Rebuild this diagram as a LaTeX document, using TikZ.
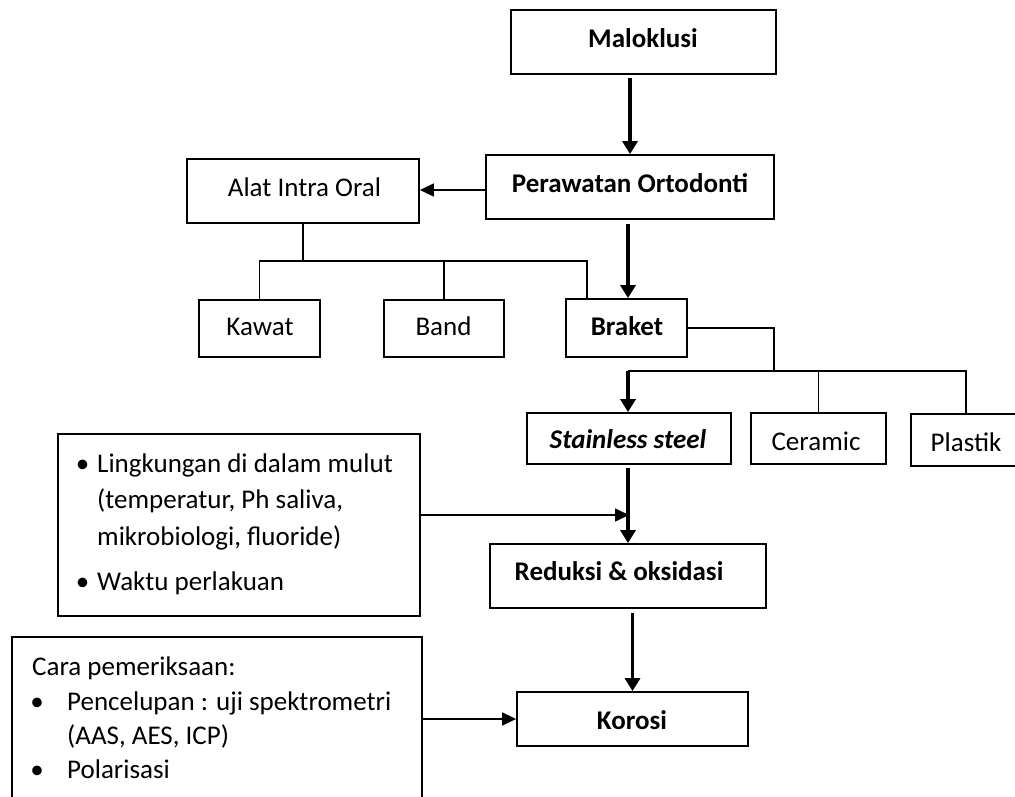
\documentclass[tikz,border=0pt]{standalone}
\usepackage{fontspec}
\setmainfont{Carlito}
\usetikzlibrary{arrows.meta}
\begin{document}
\begin{tikzpicture}[x=1pt,y=-1pt,
  box/.style={draw, line width=1.8pt, inner sep=0pt},
  txt/.style={inner sep=0pt, anchor=base, font=\fontsize{27pt}{32pt}\selectfont},
  txtl/.style={inner sep=0pt, anchor=base west, font=\fontsize{27pt}{32pt}\selectfont},
  conn/.style={line width=1.6pt},
  thinarrow/.style={line width=1.6pt, -{Triangle[length=14pt,width=13pt]}},
  thickarrow/.style={line width=3.8pt, -{Triangle[length=13pt,width=15pt]}}
]
\useasboundingbox (0,0) rectangle (1015,796);
\clip (0,0) rectangle (1015,796);
\fill[white] (0,0) rectangle (1015,796);

% boxes
\node[box, minimum width=265pt, minimum height=64pt] (mal) at (643.5,42) {};
\node[box, minimum width=288pt, minimum height=64pt] (per) at (630,187) {};
\node[box, minimum width=232pt, minimum height=64pt] (alat) at (303,191) {};
\node[box, minimum width=121pt, minimum height=57pt] (kawat) at (259.5,328.5) {};
\node[box, minimum width=120pt, minimum height=57pt] (band) at (444,328.5) {};
\node[box, minimum width=121pt, minimum height=58pt] (braket) at (626.5,328) {};
\node[box, minimum width=204pt, minimum height=51pt] (stain) at (629,438.5) {};
\node[box, minimum width=135pt, minimum height=51pt] (ceramic) at (818.5,438.5) {};
\node[box, minimum width=110pt, minimum height=52pt] (plastik) at (966,440) {};
\node[box, minimum width=276pt, minimum height=64pt] (red) at (628,576) {};
\node[box, minimum width=231pt, minimum height=54pt] (korosi) at (632.5,719) {};
\node[box, minimum width=362pt, minimum height=182pt] (box1) at (239,525) {};
\node[box, minimum width=410pt, minimum height=173pt] (box2) at (217,723.5) {};

% texts
\node[txt] (malt) at (643,47) {\textbf{Maloklusi}};
\node[txt] (pert) at (630,192) {\textbf{Perawatan Ortodonti}};
\node[txt] (alatt) at (304.5,196) {Alat Intra Oral};
\node[txt] (kawatt) at (260,335) {Kawat};
\node[txt] (bandt) at (443.5,335) {Band};
\node[txt] (brakett) at (627,335) {\textbf{Braket}};
\node[txt] (staint) at (628,448) {\textbf{\textit{Stainless steel}}};
\node[txt] (ceramict) at (816,450) {Ceramic};
\node[txt] (plastikt) at (966,451) {Plastik};
\node[txt] (redt) at (619,580) {\textbf{Reduksi \& oksidasi}};
\node[txt] (korosit) at (632,729) {\textbf{Korosi}};

\node[txt] (b1a) at (82.5,472) {•};
\node[txtl] (l1) at (97,472) {Lingkungan di dalam mulut};
\node[txtl] (l2) at (97,508) {(temperatur, Ph saliva,};
\node[txtl] (l3) at (97,545) {mikrobiologi, fluoride)};
\node[txt] (b1b) at (82.5,590) {•};
\node[txtl] (l4) at (97,590) {Waktu perlakuan};

\node[txtl] (c0) at (32,675) {Cara pemeriksaan:};
\node[txt] (b2a) at (37,710) {•};
\node[txtl] (c1) at (67,710) {Pencelupan : uji spektrometri};
\node[txtl] (c2) at (67,744) {(AAS, AES, ICP)};
\node[txt] (b2b) at (37,778) {•};
\node[txtl] (c3) at (67,778) {Polarisasi};

% helper coordinates
\coordinate (busA) at (587,261);
\coordinate (xa) at (628,0);
\coordinate (brk) at (774,371);
\coordinate (busL) at (628,371);
\coordinate (busR) at (966,371);
\coordinate (m1) at (629,515);

% connectors
\draw[thickarrow, shorten <=3pt] (mal.south -| per.north) -- (per.north);
\draw[thinarrow] (per.west |- 0,190) -- (alat.east |- 0,190);
\draw[conn] (alat.south) -- (alat.south |- busA);
\draw[conn] (kawat.north) -- (kawat.north |- busA) -- (busA) -- (busA |- braket.north);
\draw[conn] (band.north) -- (band.north |- busA);
\draw[thickarrow, shorten <=4pt] (per.south -| xa) -- (braket.north -| xa);
\draw[conn] (braket.east) -| (brk);
\draw[conn] (busL) -- (busR) -- (plastik.north);
\draw[conn] (ceramic.north) -- (ceramic.north |- busL);
\draw[thickarrow] (busL) -- (stain.north -| busL);
\draw[thickarrow, shorten <=3pt] (stain.south -| red.north) -- (red.north);
\draw[thinarrow] (box1.east |- m1) -- (m1);
\draw[thickarrow, shorten <=4pt] (korosi.north |- red.south) -- (korosi.north);
\draw[thinarrow] (box2.east |- korosi.west) -- (korosi.west);
\end{tikzpicture}
\end{document}
